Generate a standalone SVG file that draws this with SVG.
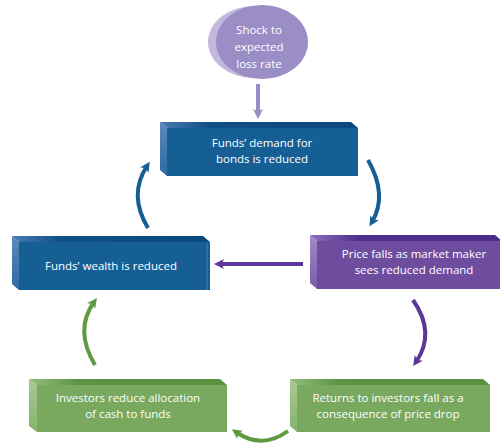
<svg xmlns="http://www.w3.org/2000/svg" width="500" height="443" viewBox="0 0 500 443">
<defs>
<linearGradient id="sideB" x1="0" y1="0" x2="0" y2="1"><stop offset="0" stop-color="#5d88bb"/><stop offset="1" stop-color="#2d6aa2"/></linearGradient>
<linearGradient id="topB" x1="0" y1="0" x2="1" y2="0"><stop offset="0" stop-color="#4a7cb3"/><stop offset="0.25" stop-color="#0e4f86"/><stop offset="1" stop-color="#0b4a80"/></linearGradient>
<linearGradient id="sideP" x1="0" y1="0" x2="0" y2="1"><stop offset="0" stop-color="#a08bc8"/><stop offset="1" stop-color="#7a5cab"/></linearGradient>
<linearGradient id="topP" x1="0" y1="0" x2="1" y2="0"><stop offset="0" stop-color="#8b6fbd"/><stop offset="0.25" stop-color="#532f8d"/><stop offset="1" stop-color="#4f2b89"/></linearGradient>
<linearGradient id="sideG" x1="0" y1="0" x2="0" y2="1"><stop offset="0" stop-color="#a9c995"/><stop offset="1" stop-color="#86b36c"/></linearGradient>
<linearGradient id="topG" x1="0" y1="0" x2="1" y2="0"><stop offset="0" stop-color="#93bd7b"/><stop offset="0.25" stop-color="#5c9443"/><stop offset="1" stop-color="#5a9140"/></linearGradient>
<marker id="mB" markerWidth="10" markerHeight="10" refX="5" refY="5" orient="auto" markerUnits="userSpaceOnUse" viewBox="0 0 10 10"><path d="M0,0 L10,5 L0,10 L2.5,5 Z" fill="#155f95"/></marker>
<marker id="mP" markerWidth="10" markerHeight="10" refX="5" refY="5" orient="auto" markerUnits="userSpaceOnUse" viewBox="0 0 10 10"><path d="M0,0 L10,5 L0,10 L2.5,5 Z" fill="#5b3896"/></marker>
<marker id="mG" markerWidth="10" markerHeight="10" refX="5" refY="5" orient="auto" markerUnits="userSpaceOnUse" viewBox="0 0 10 10"><path d="M0,0 L10,5 L0,10 L2.5,5 Z" fill="#5f9a41"/></marker>
<marker id="mL" markerWidth="10" markerHeight="10" refX="5" refY="5" orient="auto" markerUnits="userSpaceOnUse" viewBox="0 0 10 10"><path d="M0,0 L10,5 L0,10 L2.5,5 Z" fill="#9a8cc6"/></marker>
</defs>
<style>
text{font-family:"Open Sans","Noto Sans","Liberation Sans",sans-serif;font-size:11.5px;fill:#ffffff;text-anchor:middle}
.c{fill:none;stroke-width:4}
.b{stroke:#155f95}.p{stroke:#5b3896}.g{stroke:#5f9a41}
</style>
<g id="shock">
<ellipse cx="254" cy="42" rx="46" ry="36" fill="#c3b9de"/>
<ellipse cx="262" cy="42" rx="46" ry="37" fill="#9b8dc5"/>
<text x="259" y="34">Shock to</text>
<text x="259" y="51">expected</text>
<text x="259" y="68">loss rate</text>
</g>
<g id="demand">
<polygon points="160,122 351,122 358,128 167,128" fill="url(#topB)"/>
<polygon points="160,122 167,128 167,176 160,170" fill="url(#sideB)"/>
<rect x="167" y="128" width="191" height="48" fill="#155f95"/>
<text x="262" y="147">Funds’ demand for</text>
<text x="262" y="163">bonds is reduced</text>
</g>
<g id="wealth">
<polygon points="12,236 203,236 210,242 19,242" fill="url(#topB)"/>
<polygon points="12,236 19,242 19,290 12,284" fill="url(#sideB)"/>
<rect x="19" y="242" width="191" height="48" fill="#155f95"/>
<line x1="207" y1="243" x2="207" y2="290" stroke="#4d7fb0" stroke-width="1"/>
<text x="111" y="270">Funds’ wealth is reduced</text>
</g>
<g id="price">
<polygon points="310,235 495,235 502,241 317,241" fill="url(#topP)"/>
<polygon points="310,235 317,241 317,289 310,283" fill="url(#sideP)"/>
<rect x="317" y="241" width="185" height="48" fill="#6e4d9f"/>
<text x="414" y="258">Price falls as market maker</text>
<text x="414" y="274">sees reduced demand</text>
</g>
<g id="investors">
<polygon points="29,379 220,379 227,385 37,385" fill="url(#topG)"/>
<polygon points="29,379 37,385 37,432 29,426" fill="url(#sideG)"/>
<rect x="37" y="385" width="190" height="47" fill="#78a95e"/>
<text x="128" y="402">Investors reduce allocation</text>
<text x="128" y="418">of cash to funds</text>
</g>
<g id="returns">
<polygon points="290,379 483,379 490,385 297,385" fill="url(#topG)"/>
<polygon points="290,379 297,385 297,432 290,426" fill="url(#sideG)"/>
<rect x="297" y="385" width="193" height="47" fill="#78a95e"/>
<text x="388" y="402">Returns to investors fall as a</text>
<text x="388" y="418">consequence of price drop</text>
</g>
<g id="connectors">
<line x1="258" y1="84" x2="258" y2="114" stroke="#9a8cc6" stroke-width="4" marker-end="url(#mL)"/>
<path class="c b" d="M148,228 Q128,195 147,166" marker-end="url(#mB)"/>
<path class="c b" d="M368,160 Q388,195 372,222" marker-end="url(#mB)"/>
<line x1="303" y1="264" x2="219" y2="264" stroke="#5b3896" stroke-width="4" marker-end="url(#mP)"/>
<path class="c p" d="M413,300 Q436,333 416,362" marker-end="url(#mP)"/>
<path class="c g" d="M95,365 Q74,330 94,302" marker-end="url(#mG)"/>
<path class="c g" d="M288,431 Q262,450 236,432" marker-end="url(#mG)"/>
</g>
</svg>
